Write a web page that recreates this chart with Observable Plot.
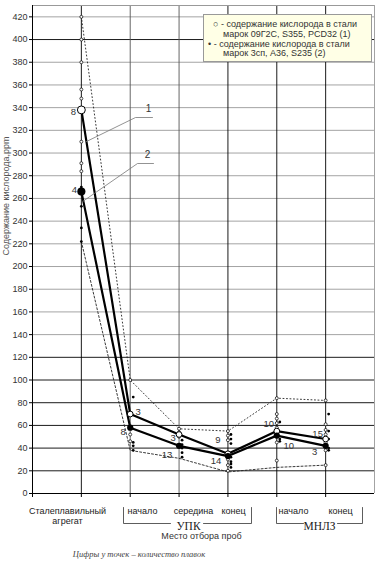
<!DOCTYPE html>
<html><head><meta charset="utf-8">
<script src="https://cdn.jsdelivr.net/npm/d3@7"></script>
<script src="https://cdn.jsdelivr.net/npm/@observablehq/plot@0.6"></script>
<style>
body{margin:0;background:#fff;}
#wrap{position:relative;width:380px;height:561px;font-family:"Liberation Sans",Arial,sans-serif;}
#legend{position:absolute;left:203px;top:14px;width:169px;height:48px;background:#ffffe6;border:1px solid #999;box-sizing:border-box;}
.lg{position:absolute;font-size:9px;color:#333;white-space:nowrap;line-height:10px;}
#caption{position:absolute;left:0;width:278px;top:549px;text-align:center;font:italic 8.5px "Liberation Serif",serif;color:#444;}
</style></head>
<body><div id="wrap"><div id="chart"></div>
<div id="legend">
<div class="lg" style="left:9px;top:4px">○ - содержание кислорода в стали</div>
<div class="lg" style="left:19px;top:14px">марок 09Г2С, S355, PCD32 (1)</div>
<div class="lg" style="left:4px;top:24px">• - содержание кислорода в стали</div>
<div class="lg" style="left:19px;top:33px">марок 3сп, A36, S235 (2)</div>
</div>
<div id="caption">Цифры у точек – количество плавок</div></div>
<script>
// ---- data ----
const categories = ["Сталеплавильный\nагрегат", "начало", "середина", "конец", "начало", "конец"];
const groups = ["УПК", "МНЛЗ"];
const mean1 = [338, 70, 52, 35, 55, 48];   // 09Г2С, S355, PCD32 (1)
const mean2 = [266, 58, 42, 33, 51, 42];   // 3сп, A36, S235 (2)
const count1 = [8, 3, 3, 9, 10, 15];
const count2 = [4, 8, 13, 14, 10, 3];
const upper = [420, 100, 57, 55, 84, 82];
const lower = [222, 38, 31, 19, 23, 25];
const vals1 = [
  [420, 400, 380, 356, 348, 310, 291, 284],
  [100, 52, 46],
  [57, 54, 50],
  [55, 51, 47, 36, 30, 25, 20],
  [84, 70, 66, 62, 58, 45, 29],
  [82, 61, 56, 52, 45, 38, 25]
];
const vals2 = [
  [270, 253, 234, 222],
  [85, 45, 42, 38],
  [47, 43, 40, 36, 32],
  [52, 48, 44, 32, 28, 26, 23],
  [63, 48, 46],
  [70, 55, 48, 40, 38]
];
const yTicks = d3.range(0, 421, 20);
const xGrid = [1, 2, 3, 4, 5, 6, 7];

// ---- layout ----
const W = 380, H = 545, mL = 32, mR = 6, mT = 5, mB = 52, yMax = 430;
const kx = (W - mL - mR) / 7, ky = (H - mT - mB) / yMax;
const xAt = px => (px - mL) / kx;
const yAt = py => (H - mB - py) / ky;

const line1 = mean1.map((v, i) => ({x: i + 1, y: v}));
const line2 = mean2.map((v, i) => ({x: i + 1, y: v}));
const up = upper.map((v, i) => ({x: i + 1, y: v}));
const lo = lower.map((v, i) => ({x: i + 1, y: v}));
const p1 = vals1.flatMap((a, i) => a.map(v => ({x: i + 1, y: v})));
const p2a = vals2.slice(0, 1).flatMap((a, i) => a.map(v => ({x: i + 1, y: v})));
const p2b = vals2.slice(1).flatMap((a, i) => a.map(v => ({x: i + 2, y: v})));

const off1 = [[-8, 2], [8, -2], [-6, 3], [-10, -14], [-8, -7], [-8, -5]];
const off2 = [[-7, -2], [-7, 4], [-12, 9], [-12, 5], [12, 10], [-11, 6]];

const labelPx = [67, 142, 193, 233, 293, 340];
const groupPx = [188, 319];
const brackets = [[123, 170, 203, 251], [276, 303, 337, 362]];

// callouts
const t1 = 0.104, t2 = 0.04;
const call1 = [{x: 1 + t1, y: mean1[0] + t1 * (mean1[1] - mean1[0])}, {x: xAt(135), y: yAt(117)}, {x: xAt(152), y: yAt(117)}];
const call2 = [{x: 1 + t2, y: mean2[0] + t2 * (mean2[1] - mean2[0])}, {x: xAt(137), y: yAt(163)}, {x: xAt(153), y: yAt(163)}];

const marks = [
  Plot.ruleY(yTicks.filter(v => v > 0), {x1: 0, x2: 7, stroke: v => (v <= 120 || v === 400) ? "#000" : "#9a9a9a", strokeWidth: 0.9}),
  Plot.ruleX(xGrid, {y1: 0, y2: yMax, stroke: x => x === 7 ? "#999" : (x === 2 || x === 3) ? "#555" : "#000", strokeWidth: 0.9}),
  Plot.ruleY([yMax], {x1: 0, x2: 7, stroke: "#999"}),
  Plot.ruleX([0, ...xGrid.slice(0, 6)], {y1: 0, y2: yAt(497), stroke: "#000"}),
  Plot.ruleX([0], {y1: 0, y2: yMax, stroke: "#000"}),
  Plot.ruleY([0], {x1: 0, x2: 7, stroke: "#000"}),
  Plot.axisY({ticks: yTicks, tickSize: 3, tickPadding: 2, fontSize: 9, fill: "#333", label: null}),
  Plot.line(up, {x: "x", y: "y", stroke: "#222", strokeWidth: 0.9, strokeDasharray: "1,2.5"}),
  Plot.line(lo, {x: "x", y: "y", stroke: "#222", strokeWidth: 0.9, strokeDasharray: "2,2"}),
  Plot.dot(p1, {x: "x", y: "y", r: 1.5, fill: "white", stroke: "#000", strokeWidth: 0.7}),
  Plot.dot(p2a, {x: "x", y: "y", r: 1.4, fill: "#000"}),
  Plot.dot(p2b, {x: "x", y: "y", r: 1.4, fill: "#000", dx: 3}),
  Plot.line(line1, {x: "x", y: "y", stroke: "#000", strokeWidth: 2.2}),
  Plot.line(line2, {x: "x", y: "y", stroke: "#000", strokeWidth: 2.2}),
  Plot.dot(line1, {x: "x", y: "y", r: d => d.x === 1 ? 3.2 : 1.7, fill: "white", stroke: "#000", strokeWidth: 1}),
  Plot.dot(line2, {x: "x", y: "y", r: d => d.x === 1 ? 3.4 : 2, fill: "#000"}),
  ...count1.map((c, i) => Plot.text([c], {x: i + 1, y: mean1[i], text: d => String(d), dx: off1[i][0], dy: off1[i][1], fontSize: 9.5, fill: "#333"})),
  ...count2.map((c, i) => Plot.text([c], {x: i + 1, y: mean2[i], text: d => String(d), dx: off2[i][0], dy: off2[i][1], fontSize: 9.5, fill: "#333"})),
  Plot.line(call1, {x: "x", y: "y", stroke: "#777", strokeWidth: 0.8}),
  Plot.line(call2, {x: "x", y: "y", stroke: "#777", strokeWidth: 0.8}),
  Plot.text(["1"], {x: xAt(148), y: yAt(108), text: d => d, fontSize: 10, fill: "#333"}),
  Plot.text(["2"], {x: xAt(147), y: yAt(154), text: d => d, fontSize: 10, fill: "#333"}),
  Plot.text(["Содержание кислорода,ppm"], {frameAnchor: "left", dx: -26, dy: 6, rotate: -90, text: d => d, fontSize: 9, fill: "#555"}),
  Plot.text(categories, {x: (d, i) => xAt(labelPx[i]), y: yAt(506), text: d => d, lineAnchor: "top", fontSize: 9, lineHeight: 1.15, fill: "#222"}),
  ...brackets.flatMap(b => [
    Plot.line([{x: xAt(b[0]), y: yAt(507)}, {x: xAt(b[0]), y: yAt(523)}, {x: xAt(b[1]), y: yAt(523)}], {x: "x", y: "y", stroke: "#333", strokeWidth: 0.8}),
    Plot.line([{x: xAt(b[2]), y: yAt(523)}, {x: xAt(b[3]), y: yAt(523)}, {x: xAt(b[3]), y: yAt(507)}], {x: "x", y: "y", stroke: "#333", strokeWidth: 0.8})
  ]),
  Plot.text(groups, {x: (d, i) => xAt(groupPx[i]), y: yAt(526), text: d => d, fontSize: 11.5, fontFamily: "Liberation Serif, serif", fill: "#222"}),
  Plot.text(["Место отбора проб"], {x: xAt(201), y: yAt(536), text: d => d, fontSize: 9, fill: "#333"})
];

const chart = Plot.plot({
  width: W, height: H,
  marginLeft: mL, marginRight: mR, marginTop: mT, marginBottom: mB,
  x: {domain: [0, 7], axis: null},
  y: {domain: [0, yMax], axis: null},
  style: {fontFamily: "Liberation Sans, Arial, sans-serif", background: "white", overflow: "visible"},
  marks
});
document.getElementById("chart").appendChild(chart);
</script>
</body></html>
